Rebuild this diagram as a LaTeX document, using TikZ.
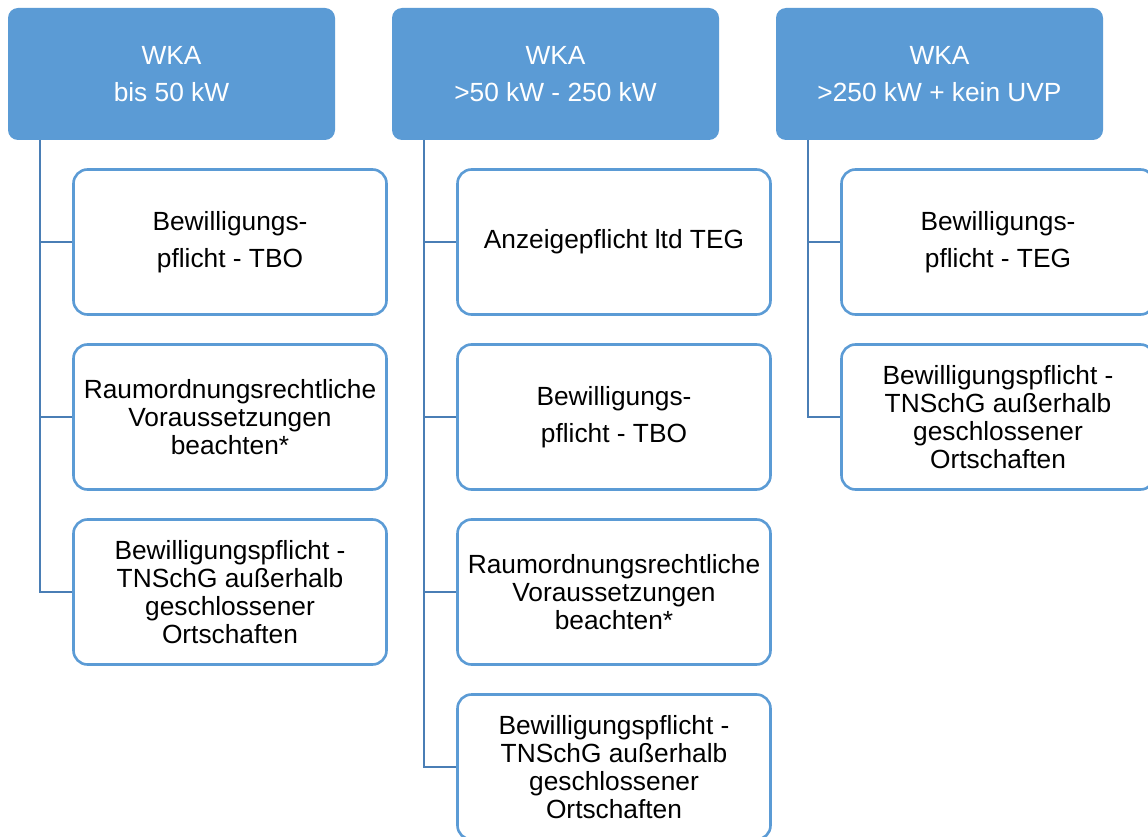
\documentclass[tikz,border=0pt]{standalone}
\usepackage{fontspec}
\setmainfont{Liberation Sans}
\definecolor{hdrblue}{HTML}{5B9BD5}
\definecolor{boxblue}{HTML}{5B9BD5}
\definecolor{linkblue}{HTML}{4A7EB5}
\begin{document}
\begin{tikzpicture}[x=1pt,y=-1pt,
  header/.style={fill=hdrblue, draw=none, rounded corners=10pt, minimum width=327pt, minimum height=132pt, inner sep=0pt, align=center, text=white, font=\fontsize{26.3pt}{37.5pt}\selectfont},
  child/.style={fill=white, draw=boxblue, line width=2.6pt, rounded corners=14pt, minimum width=313pt, minimum height=145pt, inner sep=0pt, align=center, text=black},
  twoline/.style={font=\fontsize{26.3pt}{37pt}\selectfont},
  manyline/.style={font=\fontsize{26.3pt}{27.8pt}\selectfont},
  conn/.style={draw=linkblue, line width=2.6pt}]
\useasboundingbox (0,0) rectangle (1148,837);
\fill[white] (0,0) rectangle (1148,837);

% headers
\node[header] (h1) at (171.5,74) {WKA\\bis 50 kW};
\node[header] (h2) at (555.5,74) {WKA\\>50 kW - 250 kW};
\node[header] (h3) at (939.5,74) {WKA\\>250 kW + kein UVP};

% spines
\coordinate (s1) at (40,140);
\coordinate (s2) at (424,140);
\coordinate (s3) at (808,140);

% column 1
\node[child,twoline] (c11) at (230,242) {Bewilligungs-\\pflicht - TBO};
\node[child,manyline] (c12) at (230,417) {Raumordnungsrechtliche\\Voraussetzungen\\beachten*};
\node[child,manyline] (c13) at (230,592) {Bewilligungspflicht -\\TNSchG außerhalb\\geschlossener\\Ortschaften};

% column 2
\node[child,twoline] (c21) at (614,242) {Anzeigepflicht ltd TEG};
\node[child,twoline] (c22) at (614,417) {Bewilligungs-\\pflicht - TBO};
\node[child,manyline] (c23) at (614,592) {Raumordnungsrechtliche\\Voraussetzungen\\beachten*};
\node[child,manyline] (c24) at (614,767) {Bewilligungspflicht -\\TNSchG außerhalb\\geschlossener\\Ortschaften};

% column 3
\node[child,twoline] (c31) at (998,242) {Bewilligungs-\\pflicht - TEG};
\node[child,manyline] (c32) at (998,417) {Bewilligungspflicht -\\TNSchG außerhalb\\geschlossener\\Ortschaften};

% connectors
\draw[conn] (s1) |- (c13.west);
\draw[conn] (c11.west) -- (c11.west -| s1);
\draw[conn] (c12.west) -- (c12.west -| s1);

\draw[conn] (s2) |- (c24.west);
\draw[conn] (c21.west) -- (c21.west -| s2);
\draw[conn] (c22.west) -- (c22.west -| s2);
\draw[conn] (c23.west) -- (c23.west -| s2);

\draw[conn] (s3) |- (c32.west);
\draw[conn] (c31.west) -- (c31.west -| s3);
\end{tikzpicture}
\end{document}
